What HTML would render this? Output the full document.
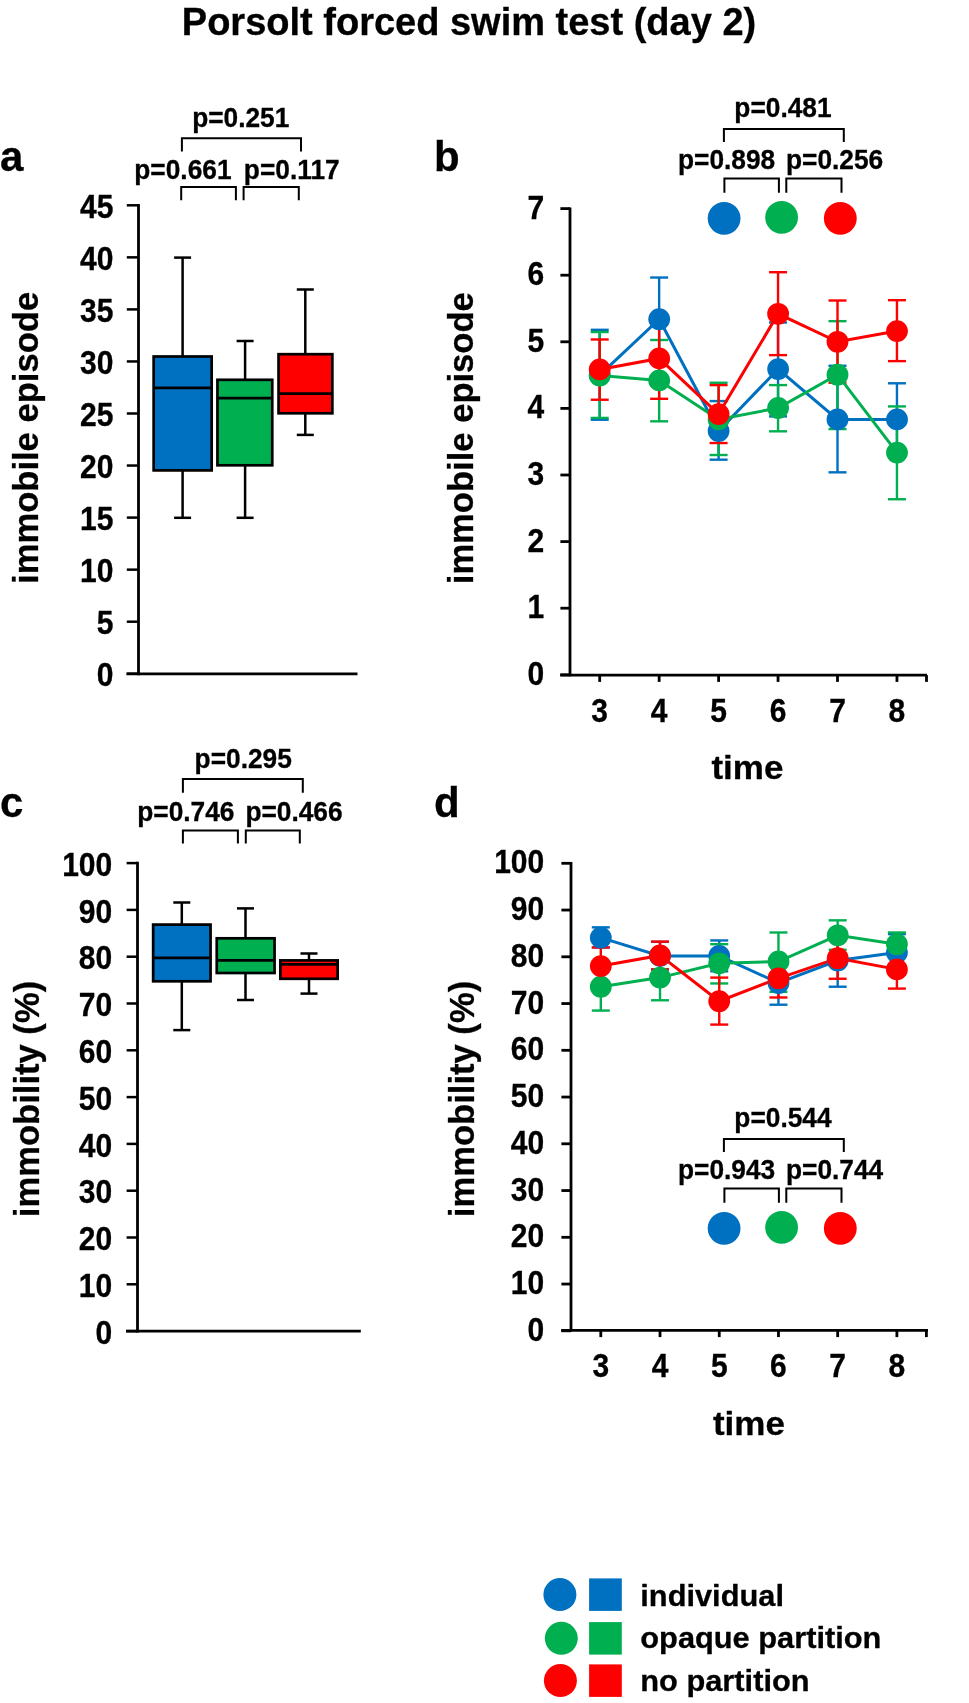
<!DOCTYPE html>
<html><head><meta charset="utf-8"><title>Porsolt forced swim test (day 2)</title>
<style>
html,body{margin:0;padding:0;background:#fff;}
body{width:969px;height:1703px;overflow:hidden;}
svg{display:block;will-change:transform;font-family:"Liberation Sans",sans-serif;font-weight:bold}
text{stroke:#000;stroke-width:0.3px;}
</style></head><body>
<svg width="969" height="1703" viewBox="0 0 969 1703">
<rect width="969" height="1703" fill="#fff"/>
<text x="469" y="34.7" font-size="38" text-anchor="middle" >Porsolt forced swim test (day 2)</text>
<text x="0" y="171" font-size="42" text-anchor="start" >a</text>
<text x="434" y="170.6" font-size="42" text-anchor="start" >b</text>
<text x="0" y="817" font-size="42" text-anchor="start" >c</text>
<text x="434" y="817" font-size="42" text-anchor="start" >d</text>
<path d="M181.9,151.4 V138.3 H301 V151.4" fill="none" stroke="#000" stroke-width="2"/>
<path d="M181.2,200.2 V187 H235.9 V200.2" fill="none" stroke="#000" stroke-width="2"/>
<path d="M243.6,200.2 V187 H298.8 V200.2" fill="none" stroke="#000" stroke-width="2"/>
<text transform="translate(240.75,127.2) scale(1,1.06)" font-size="26.3" text-anchor="middle">p=0.251</text>
<text transform="translate(182.90,179.2) scale(1,1.06)" font-size="26.3" text-anchor="middle">p=0.661</text>
<text transform="translate(291.75,179.2) scale(1,1.06)" font-size="26.3" text-anchor="middle">p=0.117</text>
<line x1="138.5" y1="204" x2="138.5" y2="675.2" stroke="#000" stroke-width="2.8"/>
<line x1="126.5" y1="673.8" x2="357.5" y2="673.8" stroke="#000" stroke-width="2.8"/>
<line x1="126.8" y1="205.3" x2="138.5" y2="205.3" stroke="#000" stroke-width="2.5"/>
<text transform="translate(113.4,217.97) scale(1,1.11)" font-size="30" text-anchor="end">45</text>
<line x1="126.8" y1="257.35" x2="138.5" y2="257.35" stroke="#000" stroke-width="2.5"/>
<text transform="translate(113.4,270.02) scale(1,1.11)" font-size="30" text-anchor="end">40</text>
<line x1="126.8" y1="309.4" x2="138.5" y2="309.4" stroke="#000" stroke-width="2.5"/>
<text transform="translate(113.4,322.07) scale(1,1.11)" font-size="30" text-anchor="end">35</text>
<line x1="126.8" y1="361.45" x2="138.5" y2="361.45" stroke="#000" stroke-width="2.5"/>
<text transform="translate(113.4,374.12) scale(1,1.11)" font-size="30" text-anchor="end">30</text>
<line x1="126.8" y1="413.5" x2="138.5" y2="413.5" stroke="#000" stroke-width="2.5"/>
<text transform="translate(113.4,426.17) scale(1,1.11)" font-size="30" text-anchor="end">25</text>
<line x1="126.8" y1="465.55" x2="138.5" y2="465.55" stroke="#000" stroke-width="2.5"/>
<text transform="translate(113.4,478.22) scale(1,1.11)" font-size="30" text-anchor="end">20</text>
<line x1="126.8" y1="517.5999999999999" x2="138.5" y2="517.5999999999999" stroke="#000" stroke-width="2.5"/>
<text transform="translate(113.4,530.27) scale(1,1.11)" font-size="30" text-anchor="end">15</text>
<line x1="126.8" y1="569.65" x2="138.5" y2="569.65" stroke="#000" stroke-width="2.5"/>
<text transform="translate(113.4,582.32) scale(1,1.11)" font-size="30" text-anchor="end">10</text>
<line x1="126.8" y1="621.7" x2="138.5" y2="621.7" stroke="#000" stroke-width="2.5"/>
<text transform="translate(113.4,634.37) scale(1,1.11)" font-size="30" text-anchor="end">5</text>
<line x1="126.8" y1="673.75" x2="138.5" y2="673.75" stroke="#000" stroke-width="2.5"/>
<text transform="translate(113.4,686.42) scale(1,1.11)" font-size="30" text-anchor="end">0</text>
<text transform="translate(38.1,437.9) rotate(-90)" font-size="34.6" text-anchor="middle">immobile episode</text>
<line x1="182.6" y1="257.6" x2="182.6" y2="356.5" stroke="#000" stroke-width="2.5"/>
<line x1="182.6" y1="470.4" x2="182.6" y2="517.8" stroke="#000" stroke-width="2.5"/>
<line x1="174.1" y1="257.6" x2="191.1" y2="257.6" stroke="#000" stroke-width="2.5"/>
<line x1="174.1" y1="517.8" x2="191.1" y2="517.8" stroke="#000" stroke-width="2.5"/>
<rect x="153.65" y="356.5" width="58.0" height="113.89999999999998" fill="#0070C0" stroke="#000" stroke-width="2.7"/>
<line x1="153.65" y1="387.9" x2="211.65" y2="387.9" stroke="#000" stroke-width="2.7"/>
<line x1="245.1" y1="341" x2="245.1" y2="379.8" stroke="#000" stroke-width="2.5"/>
<line x1="245.1" y1="465.3" x2="245.1" y2="517.8" stroke="#000" stroke-width="2.5"/>
<line x1="236.6" y1="341" x2="253.6" y2="341" stroke="#000" stroke-width="2.5"/>
<line x1="236.6" y1="517.8" x2="253.6" y2="517.8" stroke="#000" stroke-width="2.5"/>
<rect x="217.45" y="379.8" width="54.80000000000001" height="85.5" fill="#00B050" stroke="#000" stroke-width="2.7"/>
<line x1="217.45" y1="398.2" x2="272.25" y2="398.2" stroke="#000" stroke-width="2.7"/>
<line x1="305.3" y1="289.5" x2="305.3" y2="354.2" stroke="#000" stroke-width="2.5"/>
<line x1="305.3" y1="413.3" x2="305.3" y2="434.9" stroke="#000" stroke-width="2.5"/>
<line x1="296.8" y1="289.5" x2="313.8" y2="289.5" stroke="#000" stroke-width="2.5"/>
<line x1="296.8" y1="434.9" x2="313.8" y2="434.9" stroke="#000" stroke-width="2.5"/>
<rect x="278.55" y="354.2" width="53.80000000000001" height="59.10000000000002" fill="#FF0000" stroke="#000" stroke-width="2.7"/>
<line x1="278.55" y1="393.7" x2="332.35" y2="393.7" stroke="#000" stroke-width="2.7"/>
<path d="M182.9,792.8 V778.9 H302.8 V792.8" fill="none" stroke="#000" stroke-width="2"/>
<path d="M182.9,843.5 V830.4 H237.9 V843.5" fill="none" stroke="#000" stroke-width="2"/>
<path d="M245.8,843.5 V830.4 H299.8 V843.5" fill="none" stroke="#000" stroke-width="2"/>
<text transform="translate(243.20,767.7) scale(1,1.06)" font-size="26.3" text-anchor="middle">p=0.295</text>
<text transform="translate(185.85,820.5) scale(1,1.06)" font-size="26.3" text-anchor="middle">p=0.746</text>
<text transform="translate(294.00,820.5) scale(1,1.06)" font-size="26.3" text-anchor="middle">p=0.466</text>
<line x1="137.5" y1="861.8" x2="137.5" y2="1332.5" stroke="#000" stroke-width="2.8"/>
<line x1="126" y1="1331.1" x2="360.8" y2="1331.1" stroke="#000" stroke-width="2.8"/>
<line x1="126.6" y1="863.1" x2="137.5" y2="863.1" stroke="#000" stroke-width="2.5"/>
<text transform="translate(112.2,875.77) scale(1,1.11)" font-size="30" text-anchor="end">100</text>
<line x1="126.6" y1="909.9" x2="137.5" y2="909.9" stroke="#000" stroke-width="2.5"/>
<text transform="translate(112.2,922.57) scale(1,1.11)" font-size="30" text-anchor="end">90</text>
<line x1="126.6" y1="956.7" x2="137.5" y2="956.7" stroke="#000" stroke-width="2.5"/>
<text transform="translate(112.2,969.37) scale(1,1.11)" font-size="30" text-anchor="end">80</text>
<line x1="126.6" y1="1003.5" x2="137.5" y2="1003.5" stroke="#000" stroke-width="2.5"/>
<text transform="translate(112.2,1016.17) scale(1,1.11)" font-size="30" text-anchor="end">70</text>
<line x1="126.6" y1="1050.3" x2="137.5" y2="1050.3" stroke="#000" stroke-width="2.5"/>
<text transform="translate(112.2,1062.97) scale(1,1.11)" font-size="30" text-anchor="end">60</text>
<line x1="126.6" y1="1097.1" x2="137.5" y2="1097.1" stroke="#000" stroke-width="2.5"/>
<text transform="translate(112.2,1109.77) scale(1,1.11)" font-size="30" text-anchor="end">50</text>
<line x1="126.6" y1="1143.9" x2="137.5" y2="1143.9" stroke="#000" stroke-width="2.5"/>
<text transform="translate(112.2,1156.57) scale(1,1.11)" font-size="30" text-anchor="end">40</text>
<line x1="126.6" y1="1190.7" x2="137.5" y2="1190.7" stroke="#000" stroke-width="2.5"/>
<text transform="translate(112.2,1203.37) scale(1,1.11)" font-size="30" text-anchor="end">30</text>
<line x1="126.6" y1="1237.5" x2="137.5" y2="1237.5" stroke="#000" stroke-width="2.5"/>
<text transform="translate(112.2,1250.17) scale(1,1.11)" font-size="30" text-anchor="end">20</text>
<line x1="126.6" y1="1284.3" x2="137.5" y2="1284.3" stroke="#000" stroke-width="2.5"/>
<text transform="translate(112.2,1296.97) scale(1,1.11)" font-size="30" text-anchor="end">10</text>
<line x1="126.6" y1="1331.1" x2="137.5" y2="1331.1" stroke="#000" stroke-width="2.5"/>
<text transform="translate(112.2,1343.77) scale(1,1.11)" font-size="30" text-anchor="end">0</text>
<text transform="translate(38.5,1099) rotate(-90)" font-size="34.6" text-anchor="middle">immobility (%)</text>
<line x1="181.8" y1="902.5" x2="181.8" y2="924.6" stroke="#000" stroke-width="2.5"/>
<line x1="181.8" y1="981.3" x2="181.8" y2="1030.1" stroke="#000" stroke-width="2.5"/>
<line x1="173.3" y1="902.5" x2="190.3" y2="902.5" stroke="#000" stroke-width="2.5"/>
<line x1="173.3" y1="1030.1" x2="190.3" y2="1030.1" stroke="#000" stroke-width="2.5"/>
<rect x="153.15" y="924.6" width="57.400000000000006" height="56.69999999999993" fill="#0070C0" stroke="#000" stroke-width="2.7"/>
<line x1="153.15" y1="957.9" x2="210.55" y2="957.9" stroke="#000" stroke-width="2.7"/>
<line x1="245.5" y1="908.4" x2="245.5" y2="938.3" stroke="#000" stroke-width="2.5"/>
<line x1="245.5" y1="973.0" x2="245.5" y2="1000.0" stroke="#000" stroke-width="2.5"/>
<line x1="237.0" y1="908.4" x2="254.0" y2="908.4" stroke="#000" stroke-width="2.5"/>
<line x1="237.0" y1="1000.0" x2="254.0" y2="1000.0" stroke="#000" stroke-width="2.5"/>
<rect x="216.75" y="938.3" width="57.80000000000001" height="34.700000000000045" fill="#00B050" stroke="#000" stroke-width="2.7"/>
<line x1="216.75" y1="960.3" x2="274.55" y2="960.3" stroke="#000" stroke-width="2.7"/>
<line x1="309.0" y1="953.5" x2="309.0" y2="960.4" stroke="#000" stroke-width="2.5"/>
<line x1="309.0" y1="978.8" x2="309.0" y2="993.6" stroke="#000" stroke-width="2.5"/>
<line x1="300.5" y1="953.5" x2="317.5" y2="953.5" stroke="#000" stroke-width="2.5"/>
<line x1="300.5" y1="993.6" x2="317.5" y2="993.6" stroke="#000" stroke-width="2.5"/>
<rect x="280.35" y="960.4" width="57.299999999999955" height="18.399999999999977" fill="#FF0000" stroke="#000" stroke-width="2.7"/>
<line x1="280.35" y1="964.4" x2="337.65" y2="964.4" stroke="#000" stroke-width="2.7"/>
<line x1="570" y1="207.40000000000003" x2="570" y2="676.3000000000001" stroke="#000" stroke-width="2.8"/>
<line x1="560.2" y1="675.1" x2="927" y2="675.1" stroke="#000" stroke-width="2.8"/>
<line x1="560.4" y1="208.60000000000002" x2="570" y2="208.60000000000002" stroke="#000" stroke-width="2.8"/>
<text transform="translate(544.2,218.57) scale(1,1.11)" font-size="30" text-anchor="end">7</text>
<line x1="560.4" y1="275.2" x2="570" y2="275.2" stroke="#000" stroke-width="2.8"/>
<text transform="translate(544.2,285.17) scale(1,1.11)" font-size="30" text-anchor="end">6</text>
<line x1="560.4" y1="341.79999999999995" x2="570" y2="341.79999999999995" stroke="#000" stroke-width="2.8"/>
<text transform="translate(544.2,351.77) scale(1,1.11)" font-size="30" text-anchor="end">5</text>
<line x1="560.4" y1="408.4" x2="570" y2="408.4" stroke="#000" stroke-width="2.8"/>
<text transform="translate(544.2,418.37) scale(1,1.11)" font-size="30" text-anchor="end">4</text>
<line x1="560.4" y1="475.0" x2="570" y2="475.0" stroke="#000" stroke-width="2.8"/>
<text transform="translate(544.2,484.97) scale(1,1.11)" font-size="30" text-anchor="end">3</text>
<line x1="560.4" y1="541.5999999999999" x2="570" y2="541.5999999999999" stroke="#000" stroke-width="2.8"/>
<text transform="translate(544.2,551.57) scale(1,1.11)" font-size="30" text-anchor="end">2</text>
<line x1="560.4" y1="608.1999999999999" x2="570" y2="608.1999999999999" stroke="#000" stroke-width="2.8"/>
<text transform="translate(544.2,618.17) scale(1,1.11)" font-size="30" text-anchor="end">1</text>
<line x1="560.4" y1="674.8" x2="570" y2="674.8" stroke="#000" stroke-width="2.8"/>
<text transform="translate(544.2,684.77) scale(1,1.11)" font-size="30" text-anchor="end">0</text>
<line x1="599.7" y1="675.1" x2="599.7" y2="681.9" stroke="#000" stroke-width="2.8"/>
<line x1="659.1500000000001" y1="675.1" x2="659.1500000000001" y2="681.9" stroke="#000" stroke-width="2.8"/>
<line x1="718.6" y1="675.1" x2="718.6" y2="681.9" stroke="#000" stroke-width="2.8"/>
<line x1="778.0500000000001" y1="675.1" x2="778.0500000000001" y2="681.9" stroke="#000" stroke-width="2.8"/>
<line x1="837.5" y1="675.1" x2="837.5" y2="681.9" stroke="#000" stroke-width="2.8"/>
<line x1="896.95" y1="675.1" x2="896.95" y2="681.9" stroke="#000" stroke-width="2.8"/>
<line x1="926.5" y1="675.1" x2="926.5" y2="681.9" stroke="#000" stroke-width="2.8"/>
<text transform="translate(599.7,722.07) scale(1,1.11)" font-size="30" text-anchor="middle">3</text>
<text transform="translate(659.1500000000001,722.07) scale(1,1.11)" font-size="30" text-anchor="middle">4</text>
<text transform="translate(718.6,722.07) scale(1,1.11)" font-size="30" text-anchor="middle">5</text>
<text transform="translate(778.0500000000001,722.07) scale(1,1.11)" font-size="30" text-anchor="middle">6</text>
<text transform="translate(837.5,722.07) scale(1,1.11)" font-size="30" text-anchor="middle">7</text>
<text transform="translate(896.95,722.07) scale(1,1.11)" font-size="30" text-anchor="middle">8</text>
<text transform="translate(747.4,778.9) scale(1,0.96)" font-size="35" text-anchor="middle">time</text>
<text transform="translate(472.6,438.2) rotate(-90)" font-size="34.6" text-anchor="middle">immobile episode</text>
<line x1="599.7" y1="329.812" x2="599.7" y2="419.722" stroke="#0070C0" stroke-width="2.4"/>
<line x1="590.7" y1="329.812" x2="608.7" y2="329.812" stroke="#0070C0" stroke-width="2.4"/>
<line x1="590.7" y1="419.722" x2="608.7" y2="419.722" stroke="#0070C0" stroke-width="2.4"/>
<line x1="659.1500000000001" y1="277.531" x2="659.1500000000001" y2="361.114" stroke="#0070C0" stroke-width="2.4"/>
<line x1="650.1500000000001" y1="277.531" x2="668.1500000000001" y2="277.531" stroke="#0070C0" stroke-width="2.4"/>
<line x1="650.1500000000001" y1="361.114" x2="668.1500000000001" y2="361.114" stroke="#0070C0" stroke-width="2.4"/>
<line x1="718.6" y1="401.07399999999996" x2="718.6" y2="459.682" stroke="#0070C0" stroke-width="2.4"/>
<line x1="709.6" y1="401.07399999999996" x2="727.6" y2="401.07399999999996" stroke="#0070C0" stroke-width="2.4"/>
<line x1="709.6" y1="459.682" x2="727.6" y2="459.682" stroke="#0070C0" stroke-width="2.4"/>
<line x1="778.0500000000001" y1="322.486" x2="778.0500000000001" y2="416.392" stroke="#0070C0" stroke-width="2.4"/>
<line x1="769.0500000000001" y1="322.486" x2="787.0500000000001" y2="322.486" stroke="#0070C0" stroke-width="2.4"/>
<line x1="769.0500000000001" y1="416.392" x2="787.0500000000001" y2="416.392" stroke="#0070C0" stroke-width="2.4"/>
<line x1="837.5" y1="365.776" x2="837.5" y2="472.33599999999996" stroke="#0070C0" stroke-width="2.4"/>
<line x1="828.5" y1="365.776" x2="846.5" y2="365.776" stroke="#0070C0" stroke-width="2.4"/>
<line x1="828.5" y1="472.33599999999996" x2="846.5" y2="472.33599999999996" stroke="#0070C0" stroke-width="2.4"/>
<line x1="896.95" y1="383.29179999999997" x2="896.95" y2="455.686" stroke="#0070C0" stroke-width="2.4"/>
<line x1="887.95" y1="383.29179999999997" x2="905.95" y2="383.29179999999997" stroke="#0070C0" stroke-width="2.4"/>
<line x1="887.95" y1="455.686" x2="905.95" y2="455.686" stroke="#0070C0" stroke-width="2.4"/>
<line x1="599.7" y1="332.0098" x2="599.7" y2="417.92379999999997" stroke="#00B050" stroke-width="2.4"/>
<line x1="590.7" y1="332.0098" x2="608.7" y2="332.0098" stroke="#00B050" stroke-width="2.4"/>
<line x1="590.7" y1="417.92379999999997" x2="608.7" y2="417.92379999999997" stroke="#00B050" stroke-width="2.4"/>
<line x1="659.1500000000001" y1="340.00179999999995" x2="659.1500000000001" y2="421.32039999999995" stroke="#00B050" stroke-width="2.4"/>
<line x1="650.1500000000001" y1="340.00179999999995" x2="668.1500000000001" y2="340.00179999999995" stroke="#00B050" stroke-width="2.4"/>
<line x1="650.1500000000001" y1="421.32039999999995" x2="668.1500000000001" y2="421.32039999999995" stroke="#00B050" stroke-width="2.4"/>
<line x1="718.6" y1="382.759" x2="718.6" y2="455.02" stroke="#00B050" stroke-width="2.4"/>
<line x1="709.6" y1="382.759" x2="727.6" y2="382.759" stroke="#00B050" stroke-width="2.4"/>
<line x1="709.6" y1="455.02" x2="727.6" y2="455.02" stroke="#00B050" stroke-width="2.4"/>
<line x1="778.0500000000001" y1="385.09" x2="778.0500000000001" y2="431.31039999999996" stroke="#00B050" stroke-width="2.4"/>
<line x1="769.0500000000001" y1="385.09" x2="787.0500000000001" y2="385.09" stroke="#00B050" stroke-width="2.4"/>
<line x1="769.0500000000001" y1="431.31039999999996" x2="787.0500000000001" y2="431.31039999999996" stroke="#00B050" stroke-width="2.4"/>
<line x1="837.5" y1="321.154" x2="837.5" y2="429.046" stroke="#00B050" stroke-width="2.4"/>
<line x1="828.5" y1="321.154" x2="846.5" y2="321.154" stroke="#00B050" stroke-width="2.4"/>
<line x1="828.5" y1="429.046" x2="846.5" y2="429.046" stroke="#00B050" stroke-width="2.4"/>
<line x1="896.95" y1="406.402" x2="896.95" y2="499.2424" stroke="#00B050" stroke-width="2.4"/>
<line x1="887.95" y1="406.402" x2="905.95" y2="406.402" stroke="#00B050" stroke-width="2.4"/>
<line x1="887.95" y1="499.2424" x2="905.95" y2="499.2424" stroke="#00B050" stroke-width="2.4"/>
<line x1="599.7" y1="339.469" x2="599.7" y2="399.74199999999996" stroke="#FF0000" stroke-width="2.4"/>
<line x1="590.7" y1="339.469" x2="608.7" y2="339.469" stroke="#FF0000" stroke-width="2.4"/>
<line x1="590.7" y1="399.74199999999996" x2="608.7" y2="399.74199999999996" stroke="#FF0000" stroke-width="2.4"/>
<line x1="659.1500000000001" y1="317.82399999999996" x2="659.1500000000001" y2="398.8096" stroke="#FF0000" stroke-width="2.4"/>
<line x1="650.1500000000001" y1="317.82399999999996" x2="668.1500000000001" y2="317.82399999999996" stroke="#FF0000" stroke-width="2.4"/>
<line x1="650.1500000000001" y1="398.8096" x2="668.1500000000001" y2="398.8096" stroke="#FF0000" stroke-width="2.4"/>
<line x1="718.6" y1="385.09" x2="718.6" y2="443.032" stroke="#FF0000" stroke-width="2.4"/>
<line x1="709.6" y1="385.09" x2="727.6" y2="385.09" stroke="#FF0000" stroke-width="2.4"/>
<line x1="709.6" y1="443.032" x2="727.6" y2="443.032" stroke="#FF0000" stroke-width="2.4"/>
<line x1="778.0500000000001" y1="272.203" x2="778.0500000000001" y2="355.12" stroke="#FF0000" stroke-width="2.4"/>
<line x1="769.0500000000001" y1="272.203" x2="787.0500000000001" y2="272.203" stroke="#FF0000" stroke-width="2.4"/>
<line x1="769.0500000000001" y1="355.12" x2="787.0500000000001" y2="355.12" stroke="#FF0000" stroke-width="2.4"/>
<line x1="837.5" y1="300.508" x2="837.5" y2="382.759" stroke="#FF0000" stroke-width="2.4"/>
<line x1="828.5" y1="300.508" x2="846.5" y2="300.508" stroke="#FF0000" stroke-width="2.4"/>
<line x1="828.5" y1="382.759" x2="846.5" y2="382.759" stroke="#FF0000" stroke-width="2.4"/>
<line x1="896.95" y1="300.175" x2="896.95" y2="361.114" stroke="#FF0000" stroke-width="2.4"/>
<line x1="887.95" y1="300.175" x2="905.95" y2="300.175" stroke="#FF0000" stroke-width="2.4"/>
<line x1="887.95" y1="361.114" x2="905.95" y2="361.114" stroke="#FF0000" stroke-width="2.4"/>
<path d="M599.7,375.1 L659.2,319.2 L718.6,431.0 L778.1,369.1 L837.5,419.4 L897.0,419.4" fill="none" stroke="#0070C0" stroke-width="3"/>
<path d="M599.7,375.5 L659.2,380.4 L718.6,419.4 L778.1,408.0 L837.5,374.7 L897.0,452.6" fill="none" stroke="#00B050" stroke-width="3"/>
<path d="M599.7,369.4 L659.2,358.4 L718.6,414.1 L778.1,313.8 L837.5,341.8 L897.0,331.1" fill="none" stroke="#FF0000" stroke-width="3"/>
<circle cx="599.7" cy="375.1" r="10.9" fill="#0070C0"/>
<circle cx="659.2" cy="319.2" r="10.9" fill="#0070C0"/>
<circle cx="718.6" cy="431.0" r="10.9" fill="#0070C0"/>
<circle cx="778.1" cy="369.1" r="10.9" fill="#0070C0"/>
<circle cx="837.5" cy="419.4" r="10.9" fill="#0070C0"/>
<circle cx="897.0" cy="419.4" r="10.9" fill="#0070C0"/>
<circle cx="599.7" cy="375.5" r="10.9" fill="#00B050"/>
<circle cx="659.2" cy="380.4" r="10.9" fill="#00B050"/>
<circle cx="718.6" cy="419.4" r="10.9" fill="#00B050"/>
<circle cx="778.1" cy="408.0" r="10.9" fill="#00B050"/>
<circle cx="837.5" cy="374.7" r="10.9" fill="#00B050"/>
<circle cx="897.0" cy="452.6" r="10.9" fill="#00B050"/>
<circle cx="599.7" cy="369.4" r="10.9" fill="#FF0000"/>
<circle cx="659.2" cy="358.4" r="10.9" fill="#FF0000"/>
<circle cx="718.6" cy="414.1" r="10.9" fill="#FF0000"/>
<circle cx="778.1" cy="313.8" r="10.9" fill="#FF0000"/>
<circle cx="837.5" cy="341.8" r="10.9" fill="#FF0000"/>
<circle cx="897.0" cy="331.1" r="10.9" fill="#FF0000"/>
<path d="M723.9,142 V129.1 H843.8 V142" fill="none" stroke="#000" stroke-width="2"/>
<path d="M724.4,192.7 V178.6 H778.9 V192.7" fill="none" stroke="#000" stroke-width="2"/>
<path d="M786.3,192.7 V178.6 H841.5 V192.7" fill="none" stroke="#000" stroke-width="2"/>
<line x1="571" y1="862.0999999999999" x2="571" y2="1331.5" stroke="#000" stroke-width="2.8"/>
<line x1="561.2" y1="1330.3" x2="928.0" y2="1330.3" stroke="#000" stroke-width="2.8"/>
<line x1="561.4" y1="863.3" x2="571" y2="863.3" stroke="#000" stroke-width="2.8"/>
<text transform="translate(544.2,873.27) scale(1,1.11)" font-size="30" text-anchor="end">100</text>
<line x1="561.4" y1="910.05" x2="571" y2="910.05" stroke="#000" stroke-width="2.8"/>
<text transform="translate(544.2,920.02) scale(1,1.11)" font-size="30" text-anchor="end">90</text>
<line x1="561.4" y1="956.8" x2="571" y2="956.8" stroke="#000" stroke-width="2.8"/>
<text transform="translate(544.2,966.77) scale(1,1.11)" font-size="30" text-anchor="end">80</text>
<line x1="561.4" y1="1003.55" x2="571" y2="1003.55" stroke="#000" stroke-width="2.8"/>
<text transform="translate(544.2,1013.52) scale(1,1.11)" font-size="30" text-anchor="end">70</text>
<line x1="561.4" y1="1050.3" x2="571" y2="1050.3" stroke="#000" stroke-width="2.8"/>
<text transform="translate(544.2,1060.27) scale(1,1.11)" font-size="30" text-anchor="end">60</text>
<line x1="561.4" y1="1097.05" x2="571" y2="1097.05" stroke="#000" stroke-width="2.8"/>
<text transform="translate(544.2,1107.02) scale(1,1.11)" font-size="30" text-anchor="end">50</text>
<line x1="561.4" y1="1143.8" x2="571" y2="1143.8" stroke="#000" stroke-width="2.8"/>
<text transform="translate(544.2,1153.77) scale(1,1.11)" font-size="30" text-anchor="end">40</text>
<line x1="561.4" y1="1190.55" x2="571" y2="1190.55" stroke="#000" stroke-width="2.8"/>
<text transform="translate(544.2,1200.52) scale(1,1.11)" font-size="30" text-anchor="end">30</text>
<line x1="561.4" y1="1237.3" x2="571" y2="1237.3" stroke="#000" stroke-width="2.8"/>
<text transform="translate(544.2,1247.27) scale(1,1.11)" font-size="30" text-anchor="end">20</text>
<line x1="561.4" y1="1284.05" x2="571" y2="1284.05" stroke="#000" stroke-width="2.8"/>
<text transform="translate(544.2,1294.02) scale(1,1.11)" font-size="30" text-anchor="end">10</text>
<line x1="561.4" y1="1330.8" x2="571" y2="1330.8" stroke="#000" stroke-width="2.8"/>
<text transform="translate(544.2,1340.77) scale(1,1.11)" font-size="30" text-anchor="end">0</text>
<line x1="600.8" y1="1330.3" x2="600.8" y2="1337.1" stroke="#000" stroke-width="2.8"/>
<line x1="660.02" y1="1330.3" x2="660.02" y2="1337.1" stroke="#000" stroke-width="2.8"/>
<line x1="719.24" y1="1330.3" x2="719.24" y2="1337.1" stroke="#000" stroke-width="2.8"/>
<line x1="778.4599999999999" y1="1330.3" x2="778.4599999999999" y2="1337.1" stroke="#000" stroke-width="2.8"/>
<line x1="837.68" y1="1330.3" x2="837.68" y2="1337.1" stroke="#000" stroke-width="2.8"/>
<line x1="896.9" y1="1330.3" x2="896.9" y2="1337.1" stroke="#000" stroke-width="2.8"/>
<line x1="926.4" y1="1330.3" x2="926.4" y2="1337.1" stroke="#000" stroke-width="2.8"/>
<text transform="translate(600.8,1377.27) scale(1,1.11)" font-size="30" text-anchor="middle">3</text>
<text transform="translate(660.02,1377.27) scale(1,1.11)" font-size="30" text-anchor="middle">4</text>
<text transform="translate(719.24,1377.27) scale(1,1.11)" font-size="30" text-anchor="middle">5</text>
<text transform="translate(778.4599999999999,1377.27) scale(1,1.11)" font-size="30" text-anchor="middle">6</text>
<text transform="translate(837.68,1377.27) scale(1,1.11)" font-size="30" text-anchor="middle">7</text>
<text transform="translate(896.9,1377.27) scale(1,1.11)" font-size="30" text-anchor="middle">8</text>
<text transform="translate(748.9,1435.2) scale(1,0.96)" font-size="35" text-anchor="middle">time</text>
<text transform="translate(473.5,1099) rotate(-90)" font-size="34.6" text-anchor="middle">immobility (%)</text>
<line x1="600.8" y1="927.3475" x2="600.8" y2="947.45" stroke="#0070C0" stroke-width="2.4"/>
<line x1="591.8" y1="927.3475" x2="609.8" y2="927.3475" stroke="#0070C0" stroke-width="2.4"/>
<line x1="591.8" y1="947.45" x2="609.8" y2="947.45" stroke="#0070C0" stroke-width="2.4"/>
<line x1="660.02" y1="941.8399999999999" x2="660.02" y2="969.4224999999999" stroke="#0070C0" stroke-width="2.4"/>
<line x1="651.02" y1="941.8399999999999" x2="669.02" y2="941.8399999999999" stroke="#0070C0" stroke-width="2.4"/>
<line x1="651.02" y1="969.4224999999999" x2="669.02" y2="969.4224999999999" stroke="#0070C0" stroke-width="2.4"/>
<line x1="719.24" y1="940.4375" x2="719.24" y2="971.2925" stroke="#0070C0" stroke-width="2.4"/>
<line x1="710.24" y1="940.4375" x2="728.24" y2="940.4375" stroke="#0070C0" stroke-width="2.4"/>
<line x1="710.24" y1="971.2925" x2="728.24" y2="971.2925" stroke="#0070C0" stroke-width="2.4"/>
<line x1="778.4599999999999" y1="961.4749999999999" x2="778.4599999999999" y2="1004.71875" stroke="#0070C0" stroke-width="2.4"/>
<line x1="769.4599999999999" y1="961.4749999999999" x2="787.4599999999999" y2="961.4749999999999" stroke="#0070C0" stroke-width="2.4"/>
<line x1="769.4599999999999" y1="1004.71875" x2="787.4599999999999" y2="1004.71875" stroke="#0070C0" stroke-width="2.4"/>
<line x1="837.68" y1="934.3599999999999" x2="837.68" y2="986.72" stroke="#0070C0" stroke-width="2.4"/>
<line x1="828.68" y1="934.3599999999999" x2="846.68" y2="934.3599999999999" stroke="#0070C0" stroke-width="2.4"/>
<line x1="828.68" y1="986.72" x2="846.68" y2="986.72" stroke="#0070C0" stroke-width="2.4"/>
<line x1="896.9" y1="934.12625" x2="896.9" y2="970.825" stroke="#0070C0" stroke-width="2.4"/>
<line x1="887.9" y1="934.12625" x2="905.9" y2="934.12625" stroke="#0070C0" stroke-width="2.4"/>
<line x1="887.9" y1="970.825" x2="905.9" y2="970.825" stroke="#0070C0" stroke-width="2.4"/>
<line x1="600.8" y1="962.8774999999999" x2="600.8" y2="1010.5625" stroke="#00B050" stroke-width="2.4"/>
<line x1="591.8" y1="962.8774999999999" x2="609.8" y2="962.8774999999999" stroke="#00B050" stroke-width="2.4"/>
<line x1="591.8" y1="1010.5625" x2="609.8" y2="1010.5625" stroke="#00B050" stroke-width="2.4"/>
<line x1="660.02" y1="954.93" x2="660.02" y2="1000.2774999999999" stroke="#00B050" stroke-width="2.4"/>
<line x1="651.02" y1="954.93" x2="669.02" y2="954.93" stroke="#00B050" stroke-width="2.4"/>
<line x1="651.02" y1="1000.2774999999999" x2="669.02" y2="1000.2774999999999" stroke="#00B050" stroke-width="2.4"/>
<line x1="719.24" y1="944.1775" x2="719.24" y2="983.4475" stroke="#00B050" stroke-width="2.4"/>
<line x1="710.24" y1="944.1775" x2="728.24" y2="944.1775" stroke="#00B050" stroke-width="2.4"/>
<line x1="710.24" y1="983.4475" x2="728.24" y2="983.4475" stroke="#00B050" stroke-width="2.4"/>
<line x1="778.4599999999999" y1="932.49" x2="778.4599999999999" y2="991.8625" stroke="#00B050" stroke-width="2.4"/>
<line x1="769.4599999999999" y1="932.49" x2="787.4599999999999" y2="932.49" stroke="#00B050" stroke-width="2.4"/>
<line x1="769.4599999999999" y1="991.8625" x2="787.4599999999999" y2="991.8625" stroke="#00B050" stroke-width="2.4"/>
<line x1="837.68" y1="920.335" x2="837.68" y2="949.7874999999999" stroke="#00B050" stroke-width="2.4"/>
<line x1="828.68" y1="920.335" x2="846.68" y2="920.335" stroke="#00B050" stroke-width="2.4"/>
<line x1="828.68" y1="949.7874999999999" x2="846.68" y2="949.7874999999999" stroke="#00B050" stroke-width="2.4"/>
<line x1="896.9" y1="932.49" x2="896.9" y2="955.865" stroke="#00B050" stroke-width="2.4"/>
<line x1="887.9" y1="932.49" x2="905.9" y2="932.49" stroke="#00B050" stroke-width="2.4"/>
<line x1="887.9" y1="955.865" x2="905.9" y2="955.865" stroke="#00B050" stroke-width="2.4"/>
<line x1="600.8" y1="947.45" x2="600.8" y2="984.8499999999999" stroke="#FF0000" stroke-width="2.4"/>
<line x1="591.8" y1="947.45" x2="609.8" y2="947.45" stroke="#FF0000" stroke-width="2.4"/>
<line x1="591.8" y1="984.8499999999999" x2="609.8" y2="984.8499999999999" stroke="#FF0000" stroke-width="2.4"/>
<line x1="660.02" y1="941.60625" x2="660.02" y2="969.4224999999999" stroke="#FF0000" stroke-width="2.4"/>
<line x1="651.02" y1="941.60625" x2="669.02" y2="941.60625" stroke="#FF0000" stroke-width="2.4"/>
<line x1="651.02" y1="969.4224999999999" x2="669.02" y2="969.4224999999999" stroke="#FF0000" stroke-width="2.4"/>
<line x1="719.24" y1="977.60375" x2="719.24" y2="1024.5875" stroke="#FF0000" stroke-width="2.4"/>
<line x1="710.24" y1="977.60375" x2="728.24" y2="977.60375" stroke="#FF0000" stroke-width="2.4"/>
<line x1="710.24" y1="1024.5875" x2="728.24" y2="1024.5875" stroke="#FF0000" stroke-width="2.4"/>
<line x1="778.4599999999999" y1="959.1375" x2="778.4599999999999" y2="997.4725" stroke="#FF0000" stroke-width="2.4"/>
<line x1="769.4599999999999" y1="959.1375" x2="787.4599999999999" y2="959.1375" stroke="#FF0000" stroke-width="2.4"/>
<line x1="769.4599999999999" y1="997.4725" x2="787.4599999999999" y2="997.4725" stroke="#FF0000" stroke-width="2.4"/>
<line x1="837.68" y1="938.0999999999999" x2="837.68" y2="978.7725" stroke="#FF0000" stroke-width="2.4"/>
<line x1="828.68" y1="938.0999999999999" x2="846.68" y2="938.0999999999999" stroke="#FF0000" stroke-width="2.4"/>
<line x1="828.68" y1="978.7725" x2="846.68" y2="978.7725" stroke="#FF0000" stroke-width="2.4"/>
<line x1="896.9" y1="950.2549999999999" x2="896.9" y2="988.5899999999999" stroke="#FF0000" stroke-width="2.4"/>
<line x1="887.9" y1="950.2549999999999" x2="905.9" y2="950.2549999999999" stroke="#FF0000" stroke-width="2.4"/>
<line x1="887.9" y1="988.5899999999999" x2="905.9" y2="988.5899999999999" stroke="#FF0000" stroke-width="2.4"/>
<path d="M600.8,937.6 L660.0,955.9 L719.2,955.9 L778.5,983.0 L837.7,960.5 L896.9,952.6" fill="none" stroke="#0070C0" stroke-width="3"/>
<path d="M600.8,986.7 L660.0,977.6 L719.2,963.3 L778.5,961.5 L837.7,935.3 L896.9,944.2" fill="none" stroke="#00B050" stroke-width="3"/>
<path d="M600.8,966.1 L660.0,955.4 L719.2,1001.2 L778.5,978.3 L837.7,958.2 L896.9,969.4" fill="none" stroke="#FF0000" stroke-width="3"/>
<circle cx="600.8" cy="937.6" r="10.9" fill="#0070C0"/>
<circle cx="660.0" cy="955.9" r="10.9" fill="#0070C0"/>
<circle cx="719.2" cy="955.9" r="10.9" fill="#0070C0"/>
<circle cx="778.5" cy="983.0" r="10.9" fill="#0070C0"/>
<circle cx="837.7" cy="960.5" r="10.9" fill="#0070C0"/>
<circle cx="896.9" cy="952.6" r="10.9" fill="#0070C0"/>
<circle cx="600.8" cy="986.7" r="10.9" fill="#00B050"/>
<circle cx="660.0" cy="977.6" r="10.9" fill="#00B050"/>
<circle cx="719.2" cy="963.3" r="10.9" fill="#00B050"/>
<circle cx="778.5" cy="961.5" r="10.9" fill="#00B050"/>
<circle cx="837.7" cy="935.3" r="10.9" fill="#00B050"/>
<circle cx="896.9" cy="944.2" r="10.9" fill="#00B050"/>
<circle cx="600.8" cy="966.1" r="10.9" fill="#FF0000"/>
<circle cx="660.0" cy="955.4" r="10.9" fill="#FF0000"/>
<circle cx="719.2" cy="1001.2" r="10.9" fill="#FF0000"/>
<circle cx="778.5" cy="978.3" r="10.9" fill="#FF0000"/>
<circle cx="837.7" cy="958.2" r="10.9" fill="#FF0000"/>
<circle cx="896.9" cy="969.4" r="10.9" fill="#FF0000"/>
<path d="M723.9,1152 V1139.1 H843.8 V1152" fill="none" stroke="#000" stroke-width="2"/>
<path d="M724.4,1202.7 V1188.6 H778.9 V1202.7" fill="none" stroke="#000" stroke-width="2"/>
<path d="M786.3,1202.7 V1188.6 H841.5 V1202.7" fill="none" stroke="#000" stroke-width="2"/>
<text transform="translate(782.95,117.2) scale(1,1.06)" font-size="26.3" text-anchor="middle">p=0.481</text>
<text transform="translate(726.60,168.7) scale(1,1.06)" font-size="26.3" text-anchor="middle">p=0.898</text>
<text transform="translate(834.60,168.7) scale(1,1.06)" font-size="26.3" text-anchor="middle">p=0.256</text>
<circle cx="724.1" cy="218.3" r="16.4" fill="#0070C0"/>
<circle cx="781.6" cy="217.3" r="16.4" fill="#00B050"/>
<circle cx="840.3" cy="218.3" r="16.4" fill="#FF0000"/>
<text transform="translate(782.95,1127.2) scale(1,1.06)" font-size="26.3" text-anchor="middle">p=0.544</text>
<text transform="translate(726.60,1178.7) scale(1,1.06)" font-size="26.3" text-anchor="middle">p=0.943</text>
<text transform="translate(834.60,1178.7) scale(1,1.06)" font-size="26.3" text-anchor="middle">p=0.744</text>
<circle cx="724.1" cy="1228.3" r="16.4" fill="#0070C0"/>
<circle cx="781.6" cy="1227.3" r="16.4" fill="#00B050"/>
<circle cx="840.3" cy="1228.3" r="16.4" fill="#FF0000"/>
<circle cx="559.9" cy="1594.6" r="16.5" fill="#0070C0"/>
<rect x="589.1" y="1578.3999999999999" width="32.7" height="32.5" fill="#0070C0"/>
<text transform="translate(640.3,1605.9) scale(1,0.95)" font-size="30.8">individual</text>
<circle cx="561.3" cy="1638.3" r="16.5" fill="#00B050"/>
<rect x="589.1" y="1622.1" width="32.7" height="32.5" fill="#00B050"/>
<text transform="translate(640.3,1648.0) scale(1,0.95)" font-size="30.8">opaque partition</text>
<circle cx="560.4" cy="1680.6" r="16.5" fill="#FF0000"/>
<rect x="589.1" y="1664.3999999999999" width="32.7" height="32.5" fill="#FF0000"/>
<text transform="translate(640.3,1690.6) scale(1,0.95)" font-size="30.8">no partition</text>
</svg>
</body></html>
